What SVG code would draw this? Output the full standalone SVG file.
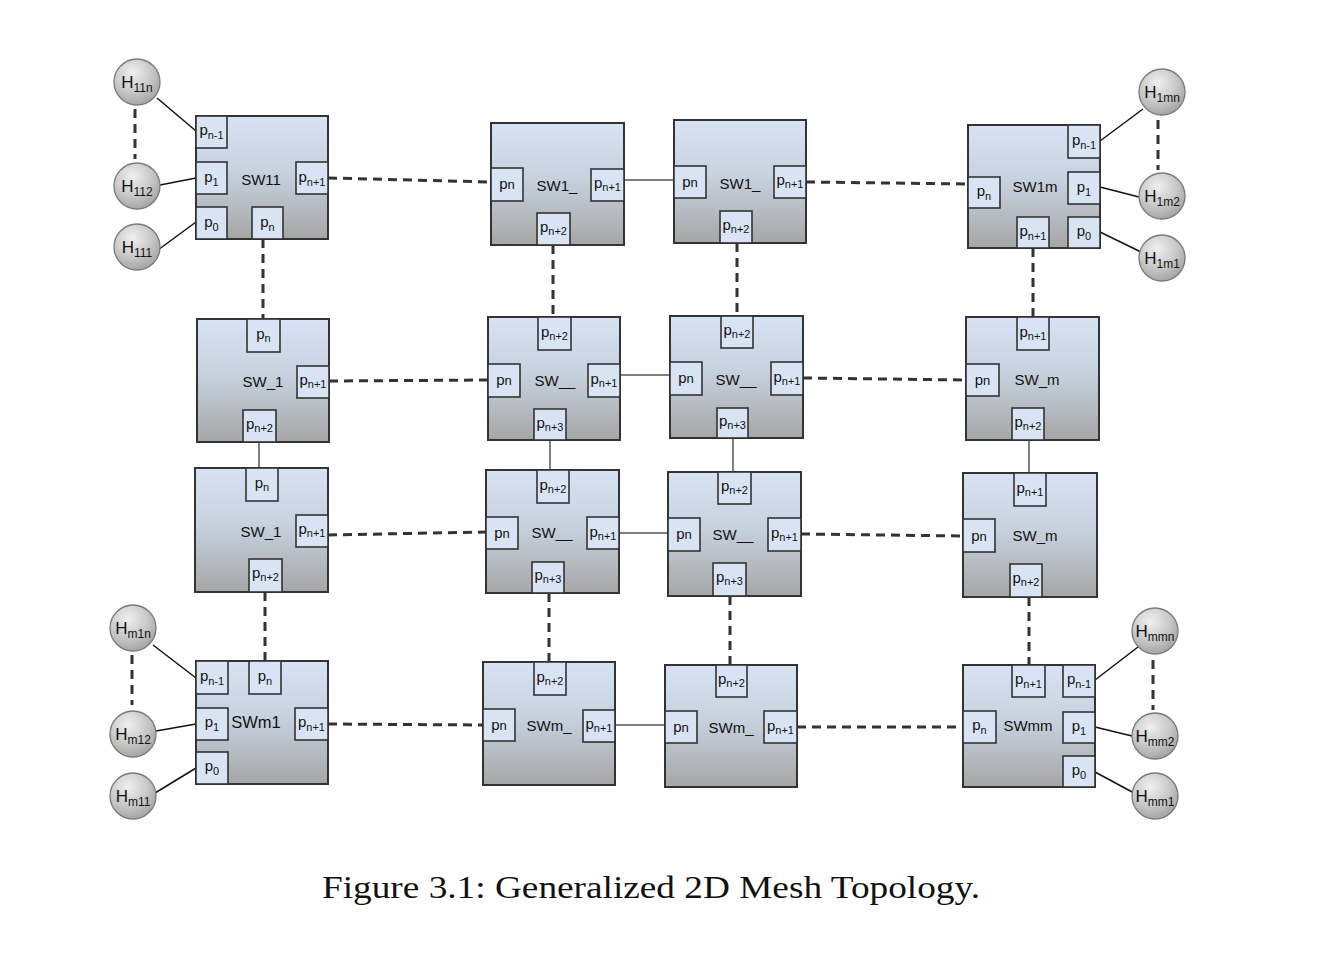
<svg xmlns="http://www.w3.org/2000/svg" width="1319" height="974" viewBox="0 0 1319 974">
<defs>
<linearGradient id="boxg" x1="0" y1="0" x2="0" y2="1">
<stop offset="0" stop-color="#d7e3f3"/>
<stop offset="0.45" stop-color="#c7d2df"/>
<stop offset="1" stop-color="#a6a6a6"/>
</linearGradient>
<radialGradient id="hostg" cx="0.4" cy="0.3" r="0.8">
<stop offset="0" stop-color="#f0f0f0"/>
<stop offset="0.5" stop-color="#cacaca"/>
<stop offset="1" stop-color="#9a9a9a"/>
</radialGradient>
<style>
.box{fill:url(#boxg);stroke:#333;stroke-width:2}
.port{fill:#d8e4f4;stroke:#333;stroke-width:1.6}
.host{fill:url(#hostg);stroke:#7a7a7a;stroke-width:1.3}
.pl{font-family:"Liberation Sans",Arial,sans-serif;font-size:15px;fill:#111;text-anchor:middle}
.sub{font-size:11px}
.nn{font-size:13px}
.sw{font-family:"Liberation Sans",Arial,sans-serif;font-size:15px;fill:#111;text-anchor:middle}
.hl{font-family:"Liberation Sans",Arial,sans-serif;font-size:17px;fill:#111;text-anchor:middle}
.hs{font-size:12px}
.dash{stroke:#333;stroke-width:3;stroke-dasharray:9 6;fill:none}
.solid{stroke:#555;stroke-width:1.5;fill:none}
.hlink{stroke:#111;stroke-width:1.5;fill:none}
.cap{font-family:"Liberation Serif","Times New Roman",serif;font-size:31px;fill:#111;text-anchor:middle}
</style>
</defs>
<rect x="0" y="0" width="1319" height="974" fill="#ffffff"/>

<g id="connectors">
<line class="hlink" x1="157" y1="98" x2="196" y2="131"/>
<line class="hlink" x1="160" y1="185" x2="196" y2="178"/>
<line class="hlink" x1="158" y1="250" x2="196" y2="222"/>
<line class="hlink" x1="1143" y1="109" x2="1100" y2="141"/>
<line class="hlink" x1="1100" y1="187" x2="1139" y2="197"/>
<line class="hlink" x1="1100" y1="232" x2="1141" y2="252"/>
<line class="hlink" x1="153" y1="645" x2="196" y2="678"/>
<line class="hlink" x1="156" y1="731" x2="196" y2="724"/>
<line class="hlink" x1="155" y1="793" x2="196" y2="768"/>
<line class="hlink" x1="1138" y1="647" x2="1095" y2="680"/>
<line class="hlink" x1="1095" y1="727" x2="1132" y2="736"/>
<line class="hlink" x1="1095" y1="772" x2="1134" y2="793"/>
<line class="dash" x1="135" y1="109" x2="135" y2="159"/>
<line class="dash" x1="1158" y1="120" x2="1158" y2="170"/>
<line class="dash" x1="132" y1="655" x2="132" y2="705"/>
<line class="dash" x1="1153" y1="660" x2="1153" y2="710"/>

<line class="solid" x1="624" y1="180" x2="674" y2="180"/>
<line class="solid" x1="620" y1="375" x2="670" y2="375"/>
<line class="solid" x1="619" y1="533" x2="668" y2="533"/>
<line class="solid" x1="615" y1="725" x2="665" y2="725"/>
<line class="solid" x1="259" y1="442" x2="259" y2="468"/>
<line class="solid" x1="550" y1="440" x2="550" y2="470"/>
<line class="solid" x1="733" y1="438" x2="733" y2="472"/>
<line class="solid" x1="1029" y1="440" x2="1029" y2="473"/>

<line class="dash" x1="328" y1="178" x2="491" y2="182"/>
<line class="dash" x1="806" y1="182" x2="968" y2="184"/>
<line class="dash" x1="329" y1="381" x2="488" y2="380"/>
<line class="dash" x1="803" y1="378" x2="966" y2="380"/>
<line class="dash" x1="328" y1="535" x2="486" y2="532"/>
<line class="dash" x1="801" y1="534" x2="963" y2="536"/>
<line class="dash" x1="328" y1="724" x2="483" y2="725"/>
<line class="dash" x1="797" y1="727" x2="963" y2="727"/>
<line class="dash" x1="263" y1="239" x2="263" y2="319"/>
<line class="dash" x1="553" y1="245" x2="553" y2="317"/>
<line class="dash" x1="737" y1="243" x2="737" y2="316"/>
<line class="dash" x1="1033" y1="248" x2="1033" y2="317"/>
<line class="dash" x1="265" y1="592" x2="265" y2="661"/>
<line class="dash" x1="549" y1="593" x2="549" y2="662"/>
<line class="dash" x1="730" y1="596" x2="730" y2="665"/>
<line class="dash" x1="1029" y1="597" x2="1029" y2="665"/>
</g>

<!-- Hosts -->
<g id="H11n"><circle class="host" cx="137" cy="82" r="23"/><text class="hl" x="137" y="88">H<tspan class="hs" dy="4">11n</tspan></text></g>
<g id="H112"><circle class="host" cx="137" cy="186" r="23"/><text class="hl" x="137" y="192">H<tspan class="hs" dy="4">112</tspan></text></g>
<g id="H111"><circle class="host" cx="137" cy="247" r="23"/><text class="hl" x="137" y="253">H<tspan class="hs" dy="4">111</tspan></text></g>
<g id="H1mn"><circle class="host" cx="1162" cy="92" r="23"/><text class="hl" x="1162" y="98">H<tspan class="hs" dy="4">1mn</tspan></text></g>
<g id="H1m2"><circle class="host" cx="1162" cy="196" r="23"/><text class="hl" x="1162" y="202">H<tspan class="hs" dy="4">1m2</tspan></text></g>
<g id="H1m1"><circle class="host" cx="1162" cy="258" r="23"/><text class="hl" x="1162" y="264">H<tspan class="hs" dy="4">1m1</tspan></text></g>
<g id="Hm1n"><circle class="host" cx="133" cy="628" r="23"/><text class="hl" x="133" y="634">H<tspan class="hs" dy="4">m1n</tspan></text></g>
<g id="Hm12"><circle class="host" cx="133" cy="734" r="23"/><text class="hl" x="133" y="740">H<tspan class="hs" dy="4">m12</tspan></text></g>
<g id="Hm11"><circle class="host" cx="133" cy="796" r="23"/><text class="hl" x="133" y="802">H<tspan class="hs" dy="4">m11</tspan></text></g>
<g id="Hmmn"><circle class="host" cx="1155" cy="631" r="23"/><text class="hl" x="1155" y="637">H<tspan class="hs" dy="4">mmn</tspan></text></g>
<g id="Hmm2"><circle class="host" cx="1155" cy="736" r="23"/><text class="hl" x="1155" y="742">H<tspan class="hs" dy="4">mm2</tspan></text></g>
<g id="Hmm1"><circle class="host" cx="1155" cy="796" r="23"/><text class="hl" x="1155" y="802">H<tspan class="hs" dy="4">mm1</tspan></text></g>

<!-- Switches -->
<g id="SW11">
<rect class="box" x="196" y="116" width="132" height="123"/>
<rect class="port" x="196" y="116" width="31" height="32"/><text class="pl" x="211.5" y="135">p<tspan class="sub" dy="4">n-1</tspan></text>
<rect class="port" x="196" y="162" width="31" height="32"/><text class="pl" x="211.5" y="182">p<tspan class="sub" dy="4">1</tspan></text>
<rect class="port" x="196" y="207" width="31" height="32"/><text class="pl" x="211.5" y="227">p<tspan class="sub" dy="4">0</tspan></text>
<rect class="port" x="252" y="207" width="31" height="32"/><text class="pl" x="267.5" y="227">p<tspan class="sub" dy="4">n</tspan></text>
<rect class="port" x="296" y="162" width="32" height="32"/><text class="pl" x="312" y="182">p<tspan class="sub" dy="4">n+1</tspan></text>
<text class="sw" x="261" y="185">SW11</text>
</g>

<g id="SW1_a">
<rect class="box" x="491" y="123" width="133" height="122"/>
<rect class="port" x="491" y="168" width="32" height="33"/><text class="pl" x="507" y="189">p<tspan class="nn">n</tspan></text>
<rect class="port" x="591" y="169" width="33" height="32"/><text class="pl" x="607.5" y="188">p<tspan class="sub" dy="3">n+1</tspan></text>
<rect class="port" x="537" y="213" width="33" height="32"/><text class="pl" x="553.5" y="232">p<tspan class="sub" dy="3">n+2</tspan></text>
<text class="sw" x="557" y="191">SW1_</text>
</g>

<g id="SW1_b">
<rect class="box" x="674" y="120" width="132" height="123"/>
<rect class="port" x="674" y="166" width="32" height="32"/><text class="pl" x="690" y="187">p<tspan class="nn">n</tspan></text>
<rect class="port" x="774" y="166" width="32" height="32"/><text class="pl" x="790" y="185">p<tspan class="sub" dy="3">n+1</tspan></text>
<rect class="port" x="720" y="211" width="32" height="32"/><text class="pl" x="736" y="230">p<tspan class="sub" dy="3">n+2</tspan></text>
<text class="sw" x="740" y="189">SW1_</text>
</g>

<g id="SW1m">
<rect class="box" x="968" y="125" width="132" height="123"/>
<rect class="port" x="1068" y="125" width="32" height="33"/><text class="pl" x="1084" y="145">p<tspan class="sub" dy="4">n-1</tspan></text>
<rect class="port" x="968" y="177" width="32" height="31"/><text class="pl" x="984" y="196">p<tspan class="sub" dy="4">n</tspan></text>
<rect class="port" x="1068" y="172" width="32" height="32"/><text class="pl" x="1084" y="192">p<tspan class="sub" dy="4">1</tspan></text>
<rect class="port" x="1068" y="217" width="32" height="31"/><text class="pl" x="1084" y="236">p<tspan class="sub" dy="4">0</tspan></text>
<rect class="port" x="1017" y="217" width="32" height="31"/><text class="pl" x="1033" y="236">p<tspan class="sub" dy="4">n+1</tspan></text>
<text class="sw" x="1035" y="192">SW1m</text>
</g>

<g id="SW_1a">
<rect class="box" x="197" y="319" width="132" height="123"/>
<rect class="port" x="247" y="319" width="33" height="33"/><text class="pl" x="263.5" y="339">p<tspan class="sub" dy="3">n</tspan></text>
<rect class="port" x="297" y="366" width="32" height="32"/><text class="pl" x="313" y="385">p<tspan class="sub" dy="3">n+1</tspan></text>
<rect class="port" x="243" y="410" width="33" height="32"/><text class="pl" x="259.5" y="429">p<tspan class="sub" dy="3">n+2</tspan></text>
<text class="sw" x="263" y="387">SW_1</text>
</g>

<g id="SW_1b">
<rect class="box" x="195" y="468" width="133" height="124"/>
<rect class="port" x="246" y="468" width="32" height="33"/><text class="pl" x="262" y="488">p<tspan class="sub" dy="3">n</tspan></text>
<rect class="port" x="296" y="515" width="32" height="32"/><text class="pl" x="312" y="534">p<tspan class="sub" dy="3">n+1</tspan></text>
<rect class="port" x="249" y="559" width="33" height="33"/><text class="pl" x="265.5" y="578">p<tspan class="sub" dy="3">n+2</tspan></text>
<text class="sw" x="261" y="537">SW_1</text>
</g>

<g id="SW__a">
<rect class="box" x="488" y="317" width="132" height="123"/>
<rect class="port" x="538" y="317" width="33" height="33"/><text class="pl" x="554.5" y="337">p<tspan class="sub" dy="3">n+2</tspan></text>
<rect class="port" x="488" y="364" width="32" height="33"/><text class="pl" x="504" y="385">p<tspan class="nn">n</tspan></text>
<rect class="port" x="588" y="364" width="32" height="33"/><text class="pl" x="604" y="384">p<tspan class="sub" dy="3">n+1</tspan></text>
<rect class="port" x="534" y="409" width="32" height="31"/><text class="pl" x="550" y="428">p<tspan class="sub" dy="3">n+3</tspan></text>
<text class="sw" x="555" y="386">SW__</text>
</g>

<g id="SW__b">
<rect class="box" x="670" y="316" width="133" height="122"/>
<rect class="port" x="721" y="316" width="32" height="32"/><text class="pl" x="737" y="335">p<tspan class="sub" dy="3">n+2</tspan></text>
<rect class="port" x="670" y="362" width="32" height="33"/><text class="pl" x="686" y="383">p<tspan class="nn">n</tspan></text>
<rect class="port" x="771" y="362" width="32" height="33"/><text class="pl" x="787" y="382">p<tspan class="sub" dy="3">n+1</tspan></text>
<rect class="port" x="717" y="408" width="31" height="30"/><text class="pl" x="732.5" y="426">p<tspan class="sub" dy="3">n+3</tspan></text>
<text class="sw" x="736" y="385">SW__</text>
</g>

<g id="SW__c">
<rect class="box" x="486" y="470" width="133" height="123"/>
<rect class="port" x="537" y="470" width="32" height="33"/><text class="pl" x="553" y="490">p<tspan class="sub" dy="3">n+2</tspan></text>
<rect class="port" x="486" y="517" width="32" height="32"/><text class="pl" x="502" y="538">p<tspan class="nn">n</tspan></text>
<rect class="port" x="587" y="517" width="32" height="32"/><text class="pl" x="603" y="537">p<tspan class="sub" dy="3">n+1</tspan></text>
<rect class="port" x="532" y="562" width="32" height="31"/><text class="pl" x="548" y="580">p<tspan class="sub" dy="3">n+3</tspan></text>
<text class="sw" x="552" y="538">SW__</text>
</g>

<g id="SW__d">
<rect class="box" x="668" y="472" width="133" height="124"/>
<rect class="port" x="718" y="472" width="33" height="32"/><text class="pl" x="734.5" y="491">p<tspan class="sub" dy="3">n+2</tspan></text>
<rect class="port" x="668" y="518" width="32" height="33"/><text class="pl" x="684" y="539">p<tspan class="nn">n</tspan></text>
<rect class="port" x="768" y="518" width="33" height="33"/><text class="pl" x="784.5" y="538">p<tspan class="sub" dy="3">n+1</tspan></text>
<rect class="port" x="713" y="563" width="33" height="33"/><text class="pl" x="729.5" y="582">p<tspan class="sub" dy="3">n+3</tspan></text>
<text class="sw" x="733" y="540">SW__</text>
</g>

<g id="SW_ma">
<rect class="box" x="966" y="317" width="133" height="123"/>
<rect class="port" x="1017" y="317" width="32" height="33"/><text class="pl" x="1033" y="337">p<tspan class="sub" dy="3">n+1</tspan></text>
<rect class="port" x="966" y="364" width="33" height="32"/><text class="pl" x="982.5" y="385">p<tspan class="nn">n</tspan></text>
<rect class="port" x="1012" y="408" width="32" height="32"/><text class="pl" x="1028" y="427">p<tspan class="sub" dy="3">n+2</tspan></text>
<text class="sw" x="1037" y="385">SW_m</text>
</g>

<g id="SW_mb">
<rect class="box" x="963" y="473" width="134" height="124"/>
<rect class="port" x="1014" y="473" width="32" height="33"/><text class="pl" x="1030" y="493">p<tspan class="sub" dy="3">n+1</tspan></text>
<rect class="port" x="963" y="519" width="32" height="33"/><text class="pl" x="979" y="541">p<tspan class="nn">n</tspan></text>
<rect class="port" x="1010" y="564" width="32" height="33"/><text class="pl" x="1026" y="583">p<tspan class="sub" dy="3">n+2</tspan></text>
<text class="sw" x="1035" y="541">SW_m</text>
</g>

<g id="SWm1">
<rect class="box" x="196" y="661" width="132" height="123"/>
<rect class="port" x="196" y="661" width="32" height="33"/><text class="pl" x="212" y="681">p<tspan class="sub" dy="4">n-1</tspan></text>
<rect class="port" x="249" y="661" width="32" height="33"/><text class="pl" x="265" y="681">p<tspan class="sub" dy="4">n</tspan></text>
<rect class="port" x="196" y="708" width="32" height="32"/><text class="pl" x="212" y="727">p<tspan class="sub" dy="4">1</tspan></text>
<rect class="port" x="196" y="752" width="32" height="32"/><text class="pl" x="212" y="771">p<tspan class="sub" dy="4">0</tspan></text>
<rect class="port" x="295" y="708" width="33" height="32"/><text class="pl" x="311.5" y="727">p<tspan class="sub" dy="4">n+1</tspan></text>
<text class="sw" x="256" y="728" style="font-size:16.5px">SWm1</text>
</g>

<g id="SWm_a">
<rect class="box" x="483" y="662" width="132" height="123"/>
<rect class="port" x="534" y="662" width="32" height="33"/><text class="pl" x="550" y="682">p<tspan class="sub" dy="3">n+2</tspan></text>
<rect class="port" x="483" y="709" width="32" height="32"/><text class="pl" x="499" y="730">p<tspan class="nn">n</tspan></text>
<rect class="port" x="583" y="710" width="32" height="32"/><text class="pl" x="599" y="729">p<tspan class="sub" dy="3">n+1</tspan></text>
<text class="sw" x="549" y="731">SWm_</text>
</g>

<g id="SWm_b">
<rect class="box" x="665" y="665" width="132" height="122"/>
<rect class="port" x="716" y="665" width="31" height="32"/><text class="pl" x="731.5" y="684">p<tspan class="sub" dy="3">n+2</tspan></text>
<rect class="port" x="665" y="711" width="32" height="32"/><text class="pl" x="681" y="732">p<tspan class="nn">n</tspan></text>
<rect class="port" x="764" y="711" width="33" height="32"/><text class="pl" x="780.5" y="731">p<tspan class="sub" dy="3">n+1</tspan></text>
<text class="sw" x="731" y="733">SWm_</text>
</g>

<g id="SWmm">
<rect class="box" x="963" y="665" width="132" height="122"/>
<rect class="port" x="1012" y="665" width="33" height="32"/><text class="pl" x="1028.5" y="684">p<tspan class="sub" dy="4">n+1</tspan></text>
<rect class="port" x="1063" y="665" width="32" height="32"/><text class="pl" x="1079" y="684">p<tspan class="sub" dy="4">n-1</tspan></text>
<rect class="port" x="963" y="711" width="33" height="32"/><text class="pl" x="979.5" y="730">p<tspan class="sub" dy="4">n</tspan></text>
<rect class="port" x="1063" y="712" width="32" height="31"/><text class="pl" x="1079" y="731">p<tspan class="sub" dy="4">1</tspan></text>
<rect class="port" x="1063" y="756" width="32" height="31"/><text class="pl" x="1079" y="775">p<tspan class="sub" dy="4">0</tspan></text>
<text class="sw" x="1028" y="731">SWmm</text>
</g>

<text class="cap" x="651" y="898" textLength="658" lengthAdjust="spacingAndGlyphs">Figure 3.1: Generalized 2D Mesh Topology.</text>
</svg>
